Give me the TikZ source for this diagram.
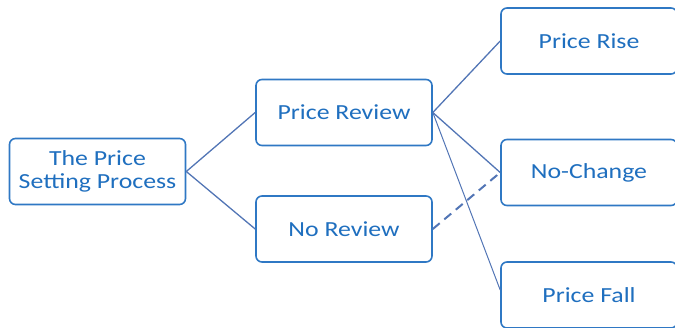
\documentclass[tikz,border=0pt]{standalone}
\usepackage{fontspec}
\setmainfont{Carlito}[FakeStretch=1.2]
\definecolor{boxblue}{HTML}{2F78C4}
\definecolor{txtblue}{HTML}{1F6FBF}
\definecolor{lineblue}{HTML}{5275B5}
\begin{document}
\begin{tikzpicture}[x=1pt,y=-1pt,
  box/.style={draw=boxblue,line width=1.6pt,rounded corners=6pt,fill=white,
    minimum width=176pt,minimum height=66pt,inner sep=0pt,
    text=txtblue,font=\fontsize{21.5}{23}\selectfont,align=center},
  conn/.style={draw=lineblue,line width=1.3pt}]
\useasboundingbox (0,0) rectangle (675,327);
\node[box] (root) at (97.5,171.5) {The Price\\Setting Process};
\node[box] (rev) at (344,112.5) {Price Review};
\node[box] (norev) at (344,229) {No Review};
\node[box] (rise) at (589,41) {Price Rise};
\node[box] (nochg) at (589,172.5) {No-Change};
\node[box] (fall) at (589,295) {Price Fall};
\draw[conn] (root.east) -- (rev.west);
\draw[conn] (root.east) -- (norev.west);
\draw[conn] (rev.east) -- (rise.west);
\draw[conn] (rev.east) -- (nochg.west);
\draw[conn,line width=1pt] (rev.east) -- ([yshift=5pt]fall.west);
\draw[conn,line width=2pt,dash pattern=on 9pt off 6pt] (norev.east) -- (nochg.west);
\end{tikzpicture}
\end{document}
